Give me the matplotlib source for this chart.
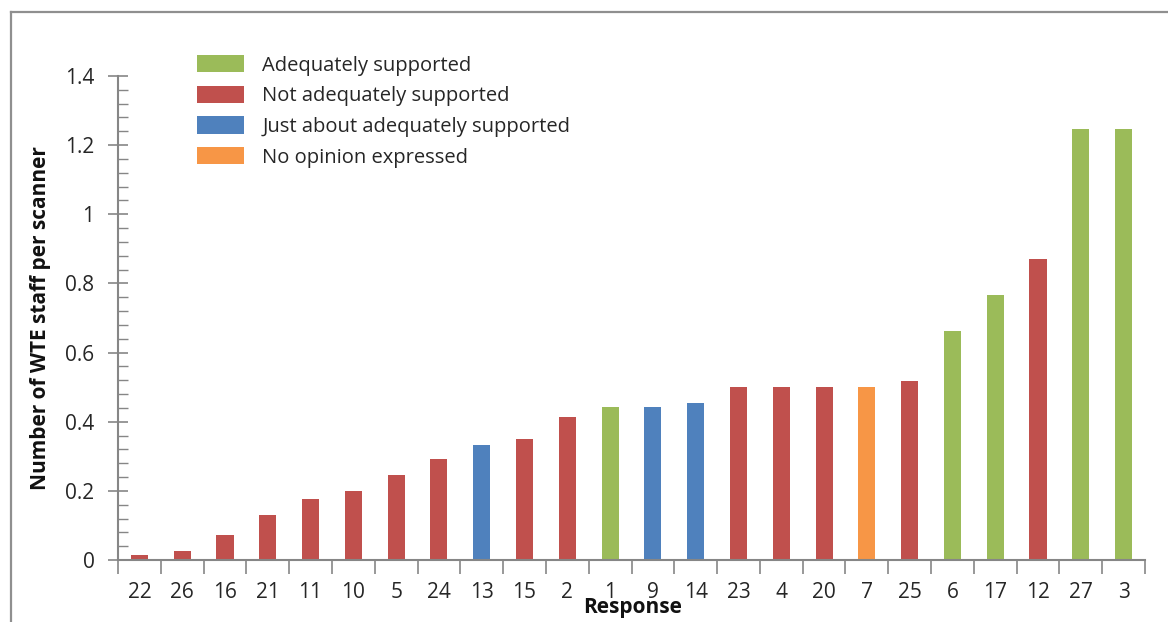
import matplotlib
matplotlib.use("Agg")
import matplotlib.pyplot as plt
from matplotlib.patches import Patch
from matplotlib.lines import Line2D
from matplotlib.ticker import MultipleLocator, FixedLocator

plt.rcParams['font.family'] = ['Open Sans', 'DejaVu Sans']

# Survey responses, sorted by staffing level
responses = ["22", "26", "16", "21", "11", "10", "5", "24", "13", "15", "2", "1",
             "9", "14", "23", "4", "20", "7", "25", "6", "17", "12", "27", "3"]
wte_per_scanner = [0.014, 0.026, 0.072, 0.130, 0.176, 0.200, 0.246, 0.292, 0.333,
                   0.350, 0.414, 0.443, 0.443, 0.454, 0.500, 0.500, 0.500, 0.500,
                   0.518, 0.662, 0.767, 0.871, 1.247, 1.247]
opinion = ["N", "N", "N", "N", "N", "N", "N", "N", "J", "N", "N", "A",
           "J", "J", "N", "N", "N", "O", "N", "A", "A", "N", "A", "A"]

categories = ["A", "N", "J", "O"]
category_labels = ["Adequately supported", "Not adequately supported",
                   "Just about adequately supported", "No opinion expressed"]
category_colors = {"A": "#9BBB59", "N": "#C0504D", "J": "#4F81BD", "O": "#F79646"}

fig = plt.figure(figsize=(11.68, 6.22), dpi=100)
ax = fig.add_axes([118 / 1168, 1 - 560 / 622, (1145 - 118) / 1168, (560 - 76) / 622])

x = list(range(len(responses)))
ax.bar(x, wte_per_scanner, width=0.4,
       color=[category_colors[o] for o in opinion], zorder=2)

axis_grey = "#868686"
text_col = "#262626"
ax.set_xlim(-0.5, len(responses) - 0.5)
ax.set_ylim(0, 1.4)
for s in ("top", "right"):
    ax.spines[s].set_visible(False)
for s in ("left", "bottom"):
    ax.spines[s].set_color(axis_grey)
    ax.spines[s].set_linewidth(1.5)

# y axis: labelled major ticks crossing the axis, minor ticks inside
ax.yaxis.set_minor_locator(MultipleLocator(0.04))
ax.set_yticks([0, 0.2, 0.4, 0.6, 0.8, 1.0, 1.2, 1.4])
ax.set_yticklabels(["0", "0.2", "0.4", "0.6", "0.8", "1", "1.2", "1.4"])
ax.tick_params(axis="y", which="major", direction="inout", length=14, width=1.2,
               color=axis_grey, labelsize=15, labelcolor=text_col, pad=10)
ax.tick_params(axis="y", which="minor", direction="in", length=7, width=1.0,
               color=axis_grey)

# x axis: labels under the bars, tick marks between categories
ax.set_xticks(x)
ax.set_xticklabels(responses)
ax.xaxis.set_minor_locator(FixedLocator([i - 0.5 for i in range(len(responses) + 1)]))
ax.tick_params(axis="x", which="major", length=0, labelsize=15,
               labelcolor=text_col, pad=16)
ax.tick_params(axis="x", which="minor", direction="out", length=10, width=1.2,
               color=axis_grey)

ax.set_ylabel("Number of WTE staff per scanner", fontsize=15, fontweight="bold",
              labelpad=10, color="#111111")
fig.text(633 / 1168, 1 - 608 / 622, "Response", fontsize=15, fontweight="bold",
         ha="center", va="center", color="#111111")

handles = [Patch(facecolor=category_colors[c], edgecolor="none") for c in categories]
fig.legend(handles, category_labels, loc="upper left",
           bbox_to_anchor=(197 / 1168, 1 - 55 / 622), frameon=False,
           fontsize=14.5, labelcolor=text_col, handlelength=2.35, handleheight=0.95,
           handletextpad=0.9, labelspacing=0.5, borderaxespad=0, borderpad=0)

# outer chart frame
frame_grey = "#8f8f8f"
fig.add_artist(Line2D([11 / 1168, 11 / 1168], [0, 1 - 12 / 622],
                      transform=fig.transFigure, color=frame_grey, lw=1.6))
fig.add_artist(Line2D([11 / 1168, 1], [1 - 12 / 622, 1 - 12 / 622],
                      transform=fig.transFigure, color=frame_grey, lw=1.6))

fig.savefig("out.png", dpi=100)
